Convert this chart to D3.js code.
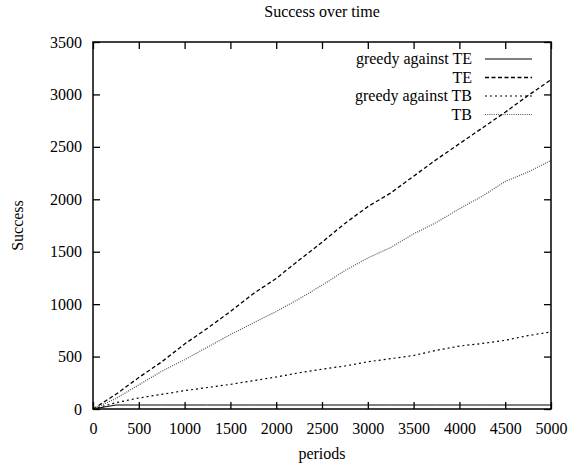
<!DOCTYPE html>
<html>
<head>
<meta charset="utf-8">
<title>Success over time</title>
<script src="https://cdn.jsdelivr.net/npm/d3@7"></script>
<style>
body { margin: 0; background: #fff; }
svg { display: block; }
text { font-family: "Liberation Serif", "DejaVu Serif", serif; font-size: 16px; fill: #000; }
</style>
</head>
<body>
<div id="chart"></div>
<script>
// periods sampled every 250
var periods = [0, 250, 500, 750, 1000, 1250, 1500, 1750, 2000, 2250, 2500,
	2750, 3000, 3250, 3500, 3750, 4000, 4250, 4500, 4750, 5000];

var greedyTE = [0, 38, 38, 38, 38, 38, 38, 38, 38, 38, 38,
	38, 38, 38, 38, 38, 38, 38, 38, 38, 38];
var TE = [0, 140, 300, 450, 620, 770, 930, 1100, 1245, 1420, 1590,
	1770, 1930, 2060, 2220, 2380, 2530, 2680, 2830, 2990, 3140];
var greedyTB = [0, 60, 105, 140, 175, 205, 235, 270, 305, 345, 380,
	410, 450, 480, 510, 560, 600, 625, 655, 700, 735];
var TB = [0, 100, 230, 360, 470, 590, 710, 820, 930, 1050, 1180,
	1320, 1440, 1540, 1670, 1780, 1910, 2030, 2170, 2260, 2370];

var seriesNames = ['greedy against TE', 'TE', 'greedy against TB', 'TB'];
var xTicks = [0, 500, 1000, 1500, 2000, 2500, 3000, 3500, 4000, 4500, 5000];
var yTicks = [0, 500, 1000, 1500, 2000, 2500, 3000, 3500];

var width = 575, height = 465;
var margin = {top: 42, left: 93, right: 24, bottom: 56};

var series = [
	{name: seriesNames[0], values: greedyTE, dash: null, color: '#000', w: 1},
	{name: seriesNames[1], values: TE, dash: '4,2.5', color: '#000', w: 1.3},
	{name: seriesNames[2], values: greedyTB, dash: '2,3', color: '#000', w: 1.2},
	{name: seriesNames[3], values: TB, dash: '1,1.2', color: '#555', w: 1.2}
];

var x = d3.scaleLinear().domain([0, 5000]).range([margin.left, width - margin.right]);
var y = d3.scaleLinear().domain([0, 3500]).range([height - margin.bottom, margin.top]);

var svg = d3.select('#chart').append('svg')
	.attr('width', width)
	.attr('height', height);

// title and axis labels
svg.append('text')
	.attr('x', (x.range()[0] + x.range()[1]) / 2)
	.attr('y', 17)
	.attr('text-anchor', 'middle')
	.text('Success over time');

svg.append('text')
	.attr('x', (x.range()[0] + x.range()[1]) / 2)
	.attr('y', 459)
	.attr('text-anchor', 'middle')
	.text('periods');

svg.append('text')
	.attr('transform', 'translate(23,' + ((y.range()[0] + y.range()[1]) / 2) + ') rotate(-90)')
	.attr('text-anchor', 'middle')
	.text('Success');

// axes, ticks pointing inward, mirrored on top and right
var tickLen = 7;
svg.append('g')
	.attr('transform', 'translate(0,' + y(0) + ')')
	.call(d3.axisBottom(x).tickValues(xTicks).tickSize(-tickLen).tickPadding(14).tickFormat(d3.format('d')))
	.call(function(g){ g.select('.domain').remove(); });

svg.append('g')
	.attr('transform', 'translate(0,' + y(3500) + ')')
	.call(d3.axisTop(x).tickValues(xTicks).tickSize(-tickLen).tickFormat(''))
	.call(function(g){ g.select('.domain').remove(); });

svg.append('g')
	.attr('transform', 'translate(' + x(0) + ',0)')
	.call(d3.axisLeft(y).tickValues(yTicks).tickSize(-tickLen).tickPadding(11).tickFormat(d3.format('d')))
	.call(function(g){ g.select('.domain').remove(); });

svg.append('g')
	.attr('transform', 'translate(' + x(5000) + ',0)')
	.call(d3.axisRight(y).tickValues(yTicks).tickSize(-tickLen).tickFormat(''))
	.call(function(g){ g.select('.domain').remove(); });

svg.selectAll('g.tick').attr('font-family', null);
svg.selectAll('svg > g').attr('font-family', null).attr('font-size', null);
svg.selectAll('.tick line').attr('stroke', '#000').attr('stroke-width', 1.3);
svg.selectAll('.tick text')
	.style('font-family', '"Liberation Serif", serif')
	.style('font-size', '16px')
	.attr('fill', '#000');

// lines
var line = d3.line()
	.x(function(d, i){ return x(periods[i]); })
	.y(function(d){ return y(d); });

svg.selectAll('path.series')
	.data(series).enter()
	.append('path')
	.attr('class', 'series')
	.attr('fill', 'none')
	.attr('stroke', function(d){ return d.color; })
	.attr('stroke-width', function(d){ return d.w; })
	.attr('stroke-dasharray', function(d){ return d.dash; })
	.attr('d', function(d){ return line(d.values); });

// frame
svg.append('rect')
	.attr('x', x(0))
	.attr('y', y(3500))
	.attr('width', x(5000) - x(0))
	.attr('height', y(0) - y(3500))
	.attr('fill', 'none')
	.attr('stroke', '#000')
	.attr('stroke-width', 1.5);

// legend
var legend = svg.selectAll('g.legend')
	.data(series).enter()
	.append('g')
	.attr('class', 'legend')
	.attr('transform', function(d, i){ return 'translate(0,' + (59 + i * 18.5) + ')'; });

legend.append('text')
	.attr('x', 472)
	.attr('y', 5)
	.attr('text-anchor', 'end')
	.text(function(d){ return d.name; });

legend.append('line')
	.attr('x1', 485)
	.attr('x2', 532)
	.attr('stroke', function(d){ return d.color; })
	.attr('stroke-width', function(d){ return d.w; })
	.attr('stroke-dasharray', function(d){ return d.dash; });
</script>
</body>
</html>
